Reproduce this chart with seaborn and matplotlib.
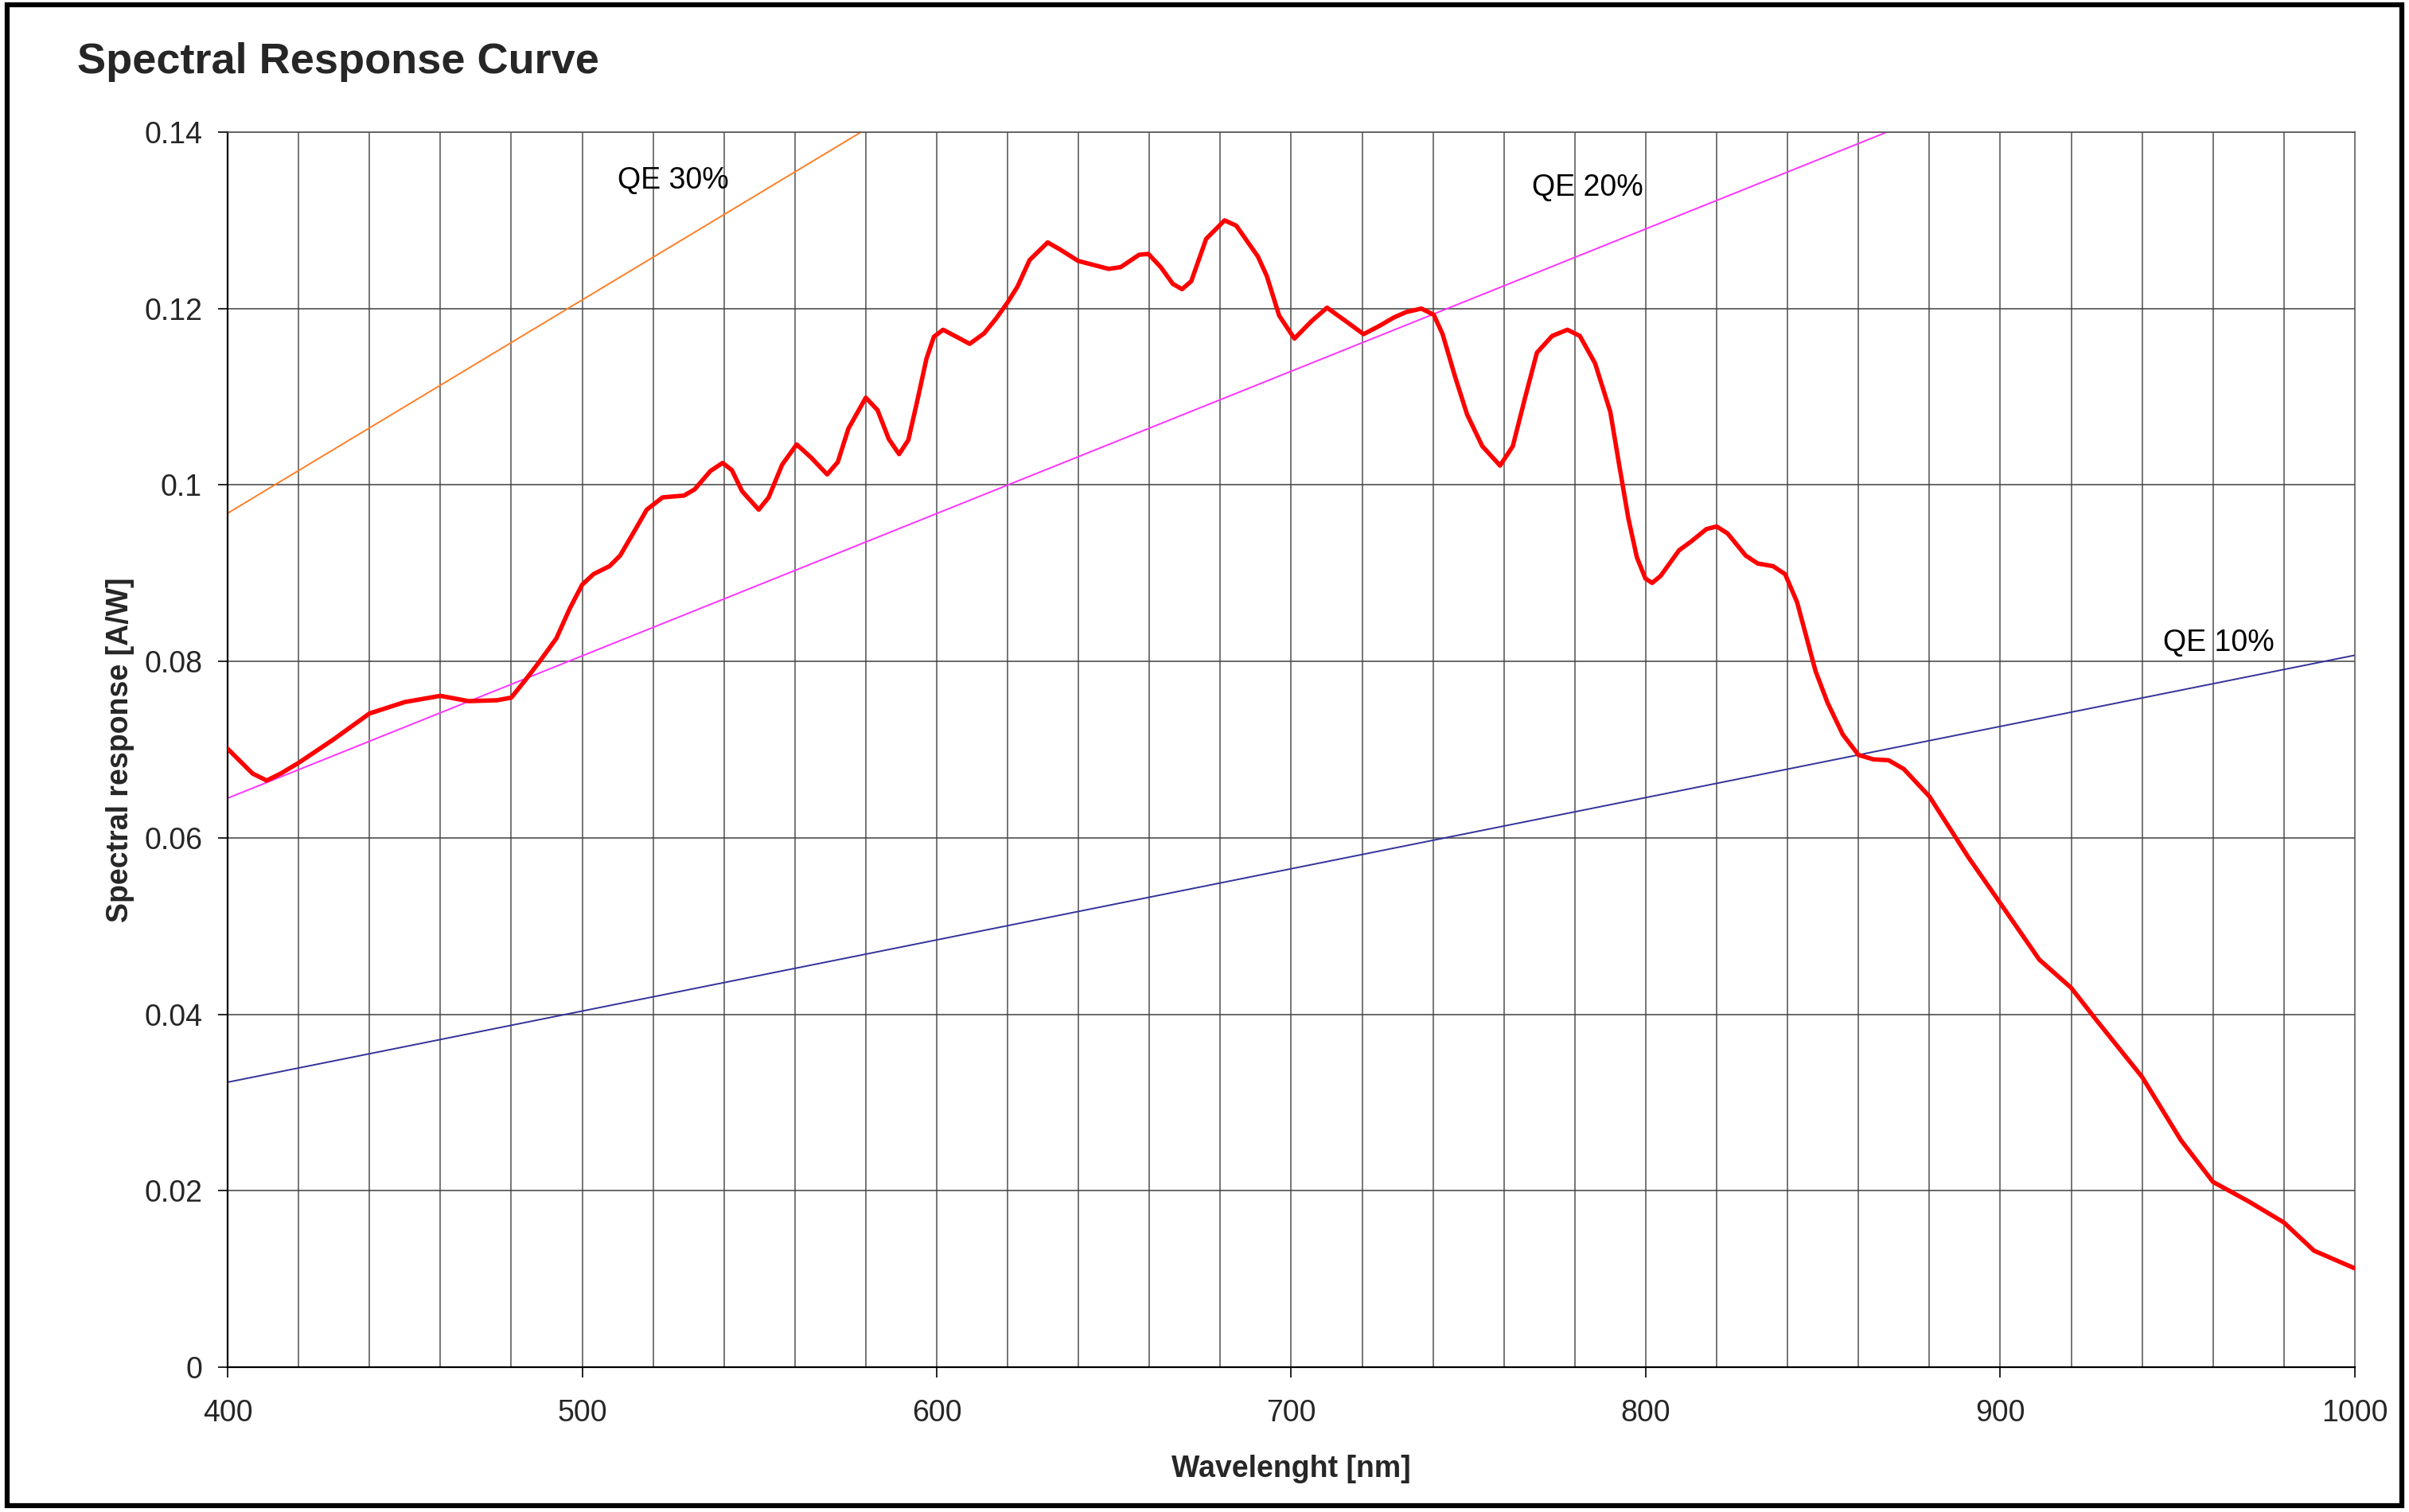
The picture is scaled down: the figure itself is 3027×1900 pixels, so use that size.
import numpy as np
import pandas as pd
import seaborn as sns
import matplotlib.pyplot as plt
from matplotlib.patches import Rectangle

# spectral response curve
wavelength = [400, 403, 407, 411, 415, 420, 430, 440, 450, 460, 468, 476, 480, 484, 488,
              492.7, 496.5, 500, 503.2, 507.7, 510.7, 515.2, 518.2, 522.7, 528.7, 531.7,
              536.2, 539.6, 542.2, 545.1, 549.8, 552.6, 556.4, 560.5, 564.6, 569.1, 572.1,
              575.1, 580, 583.3, 586.5, 589.4, 592, 594.5, 597.1, 599.2, 601.8, 605.6,
              609.3, 613.4, 616.8, 620, 622.8, 626.2, 631.3, 634.8, 639.9, 648.5, 651.9,
              657.1, 659.7, 663.2, 666.6, 669.2, 671.8, 676, 681.2, 684.5, 690.6, 693.1,
              696.6, 700.9, 705.8, 710.1, 715.3, 720.4, 724.7, 729, 732.4, 736.7, 740.2,
              742.7, 746.2, 749.6, 753.9, 758.9, 762.5, 765.9, 769.3, 773.6, 777.9, 781.4,
              785.7, 790, 792.5, 795.1, 797.5, 799.9, 801.8, 804.2, 809.4, 812.8, 817.1,
              820, 823.1, 828.2, 831.6, 835.9, 839.3, 842.7, 845.3, 847.9, 851.3, 855.6,
              860, 864.2, 868.5, 872.8, 880, 891, 900, 911, 920, 927, 940, 951, 960, 970,
              980, 988.5, 1000]
response = [0.0701, 0.0689, 0.0673, 0.0665, 0.0673, 0.0685, 0.0712, 0.0741, 0.0754, 0.0761,
            0.0755, 0.0756, 0.0759, 0.0779, 0.0800, 0.0826, 0.0860, 0.0887, 0.0899, 0.0908,
            0.0920, 0.0951, 0.0972, 0.0986, 0.0988, 0.0995, 0.1016, 0.1025, 0.1017, 0.0993,
            0.0972, 0.0986, 0.1023, 0.1046, 0.1031, 0.1012, 0.1026, 0.1064, 0.1099, 0.1085,
            0.1052, 0.1035, 0.1051, 0.1095, 0.1143, 0.1168, 0.1176, 0.1168, 0.1160, 0.1172,
            0.1189, 0.1207, 0.1225, 0.1255, 0.1275, 0.1267, 0.1254, 0.1245, 0.1247, 0.1261,
            0.1262, 0.1247, 0.1228, 0.1222, 0.1231, 0.1279, 0.1300, 0.1294, 0.1259, 0.1237,
            0.1192, 0.1166, 0.1186, 0.1201, 0.1186, 0.1171, 0.1180, 0.1190, 0.1196, 0.1200,
            0.1193, 0.1171, 0.1123, 0.1080, 0.1044, 0.1022, 0.1044, 0.1098, 0.1150, 0.1169,
            0.1176, 0.1169, 0.1138, 0.1083, 0.1023, 0.0962, 0.0918, 0.0894, 0.0889, 0.0897,
            0.0926, 0.0936, 0.0950, 0.0953, 0.0945, 0.0920, 0.0911, 0.0908, 0.0899, 0.0867,
            0.0828, 0.0789, 0.0753, 0.0717, 0.0694, 0.0689, 0.0688, 0.0678, 0.0647, 0.0578,
            0.0526, 0.0462, 0.0430, 0.0394, 0.0329, 0.0257, 0.0210, 0.0188, 0.0164, 0.0132,
            0.0112]

# constant quantum efficiency reference lines (end points)
qe_x = [400, 1000]
qe30 = [0.0968, 0.2419]
qe20 = [0.0645, 0.1613]
qe10 = [0.0323, 0.0807]

x_ticks = [400, 500, 600, 700, 800, 900, 1000]
y_ticks = [0, 0.02, 0.04, 0.06, 0.08, 0.1, 0.12, 0.14]
y_labels = ["0", "0.02", "0.04", "0.06", "0.08", "0.1", "0.12", "0.14"]

df = pd.DataFrame({"Wavelength": wavelength, "Response": response})

sns.set_theme(style="white")
plt.rcParams['font.family'] = ['Liberation Sans', 'DejaVu Sans']

fig = plt.figure(figsize=(30.27, 19), dpi=100)
ax = fig.add_axes([0.0945, 0.0958, 0.883, 0.8168])

# grid
for xv in range(420, 1000, 20):
    ax.axvline(xv, color="#505050", lw=1.1, zorder=0)
for yv in y_ticks[1:]:
    ax.axhline(yv, color="#404040", lw=1.1, zorder=0)

ax.plot(qe_x, qe30, color="#FF7F27", lw=1.4, zorder=1)
ax.plot(qe_x, qe20, color="#FF33FF", lw=1.4, zorder=1)
ax.plot(qe_x, qe10, color="#33339A", lw=1.4, zorder=1)

sns.lineplot(data=df, x="Wavelength", y="Response", color="red", lw=4.0,
             ax=ax, zorder=3, sort=False)
ax.lines[-1].set_solid_joinstyle("round")

ax.text(510, 0.1336, "QE 30%", fontsize=27, color="black")
ax.text(768, 0.1328, "QE 20%", fontsize=27, color="black")
ax.text(946, 0.0812, "QE 10%", fontsize=27, color="black")

ax.set_xlim(400, 1000)
ax.set_ylim(0, 0.14)
ax.set_xticks(x_ticks)
ax.set_yticks(y_ticks)
ax.set_yticklabels(y_labels)
ax.tick_params(axis="both", labelsize=27, direction="out", length=9, width=1.2,
               color="black")
ax.tick_params(axis="x", pad=20, bottom=True)
ax.tick_params(axis="y", pad=14, left=True)

for s in ["top", "right"]:
    ax.spines[s].set_color("#505050")
    ax.spines[s].set_linewidth(1.1)
for s in ["left", "bottom"]:
    ax.spines[s].set_color("black")
    ax.spines[s].set_linewidth(1.6)

ax.set_xlabel("Wavelenght [nm]", fontsize=27, fontweight="bold", labelpad=24)
ax.set_ylabel("Spectral response [A/W]", fontsize=27, fontweight="bold", labelpad=9)

fig.text(0.032, 0.959, "Spectral Response Curve", fontsize=39, fontweight="bold",
         va="center", ha="left")

fig.patches.append(Rectangle((0.003, 0.004), 0.994, 0.993, transform=fig.transFigure,
                             fill=False, edgecolor="black", lw=4.5))

fig.savefig("out.png", dpi=100)
